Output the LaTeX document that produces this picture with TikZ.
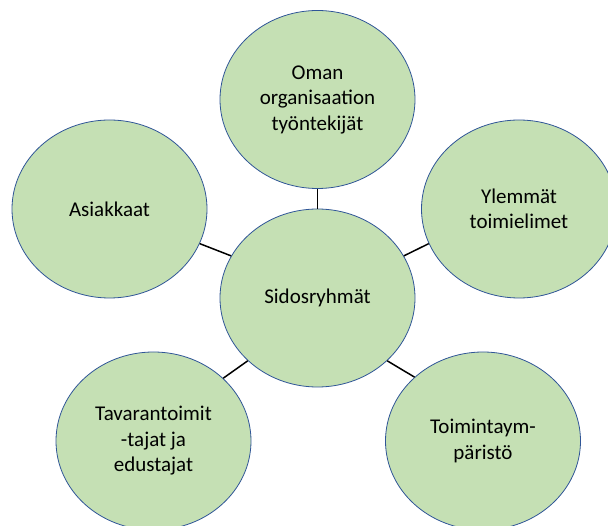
\documentclass[tikz,border=0pt]{standalone}
\usepackage{fontspec}
\setmainfont{Carlito}
\usetikzlibrary{shapes.geometric}
\definecolor{groupfill}{HTML}{C5E0B4}
\definecolor{groupline}{HTML}{2F5597}

\begin{document}
\begin{tikzpicture}[x=1pt,y=-1pt,
  group/.style={ellipse,draw=groupline,fill=groupfill,line width=0.8pt,
    minimum width=195pt,minimum height=178pt,inner sep=0pt,align=center,
    font=\fontsize{21}{25.5}\selectfont},
  link/.style={line width=1.5pt}]
\clip (0,0) rectangle (608,526);

 \node[group] (sidos) at (317.5,298) {Sidosryhmät};
 \node[group] (oman) at (317.5,99.5) {Oman\\organisaation\\työntekijät};
 \node[group] (asiak) at (109.5,209) {Asiakkaat};
 \node[group] (ylem) at (519,209) {Ylemmät\\toimielimet};
 \node[group] (tavar) at (153.5,441) {Tavarantoimit\\-tajat ja\\edustajat};
 \node[group] (toimi) at (483,441) {Toimintaym-\\päristö};

 \draw[link] (sidos.90)--(oman.-90);
 \draw[link] (sidos.154)--(asiak.-21);
 \draw[link] (sidos.26)--(ylem.-159);
 \draw[link] (sidos.-138)--(tavar.42);
 \draw[link] (sidos.-42)--(toimi.137);

\end{tikzpicture}
\end{document}
